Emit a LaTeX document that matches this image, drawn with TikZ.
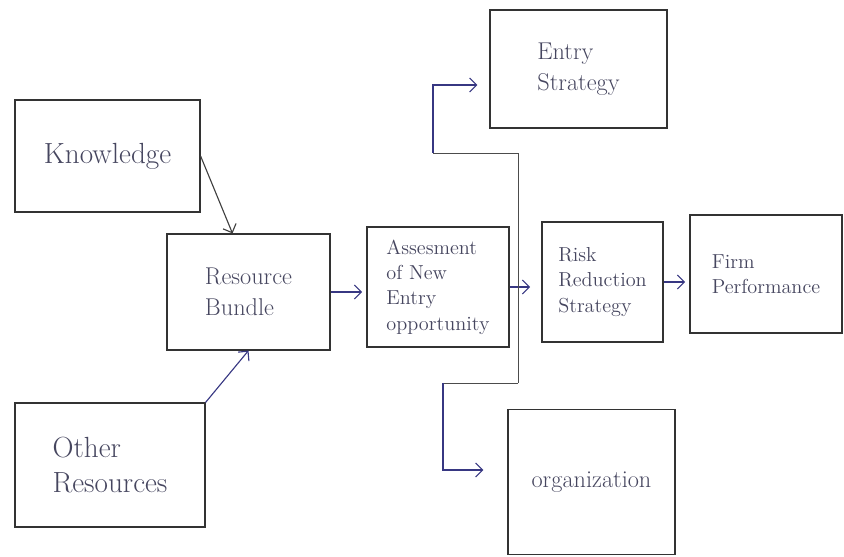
\documentclass[tikz,border=0pt]{standalone}
\usepackage{amsmath}
\usepackage{tikz}
\usetikzlibrary{arrows.meta}

\definecolor{pen}{RGB}{70,70,95}
\definecolor{ink}{RGB}{55,55,130}

\begin{document}
\begin{tikzpicture}[x=0.025cm, y=-0.025cm,
    >={Straight Barb[length=5pt, width=10pt]},
    box/.style={draw=black!80, line width=0.8pt, text=pen, align=left, inner sep=2pt},
    flow/.style={->, draw=ink, line width=0.8pt},
    trunk/.style={draw=black!70, line width=0.6pt}]
    \useasboundingbox (0, 0) rectangle (844, 557);
    % left column
    \node [box, minimum width=4.625cm, minimum height=2.8cm, font=\huge] (know) at (107.5, 156) {Knowledge};
    \node [box, minimum width=4.075cm, minimum height=2.9cm, font=\LARGE] (bundle) at (248.5, 292) {Resource\\ Bundle};
    \node [box, minimum width=4.75cm, minimum height=3.1cm, font=\huge] (other) at (110, 465) {Other\\ Resources};
    % middle row
    \node [box, minimum width=3.55cm, minimum height=3cm, font=\Large] (assess) at (438, 287) {Assesment\\ of New\\ Entry\\ opportunity};
    \node [box, minimum width=3.025cm, minimum height=3cm, font=\Large] (risk) at (602.5, 282) {Risk\\ Reduction\\ Strategy};
    \node [box, minimum width=3.8cm, minimum height=2.95cm, font=\Large] (firm) at (766, 274) {Firm\\ Performance};
    % branches
    \node [box, minimum width=4.425cm, minimum height=2.95cm, font=\LARGE] (entry) at (578.5, 69) {Entry\\ Strategy};
    \node [box, minimum width=4.175cm, minimum height=3.625cm, font=\LARGE] (org) at (591.5, 482) {organization};
    \coordinate (jtop) at (518, 153);
    \coordinate (jbot) at (518, 383);
    \coordinate (ltop) at (433, 153);
    \coordinate (lbot) at (443, 383);
    % connectors
    \draw [flow, draw=black!75] (know.east) -- ([xshift=-0.4cm]bundle.north);
    \draw [flow] (other.north east) -- (bundle.south);
    \draw [flow, shorten >=3pt] (bundle.east) -- (bundle.east -| assess.west);
    \draw [flow, shorten >=8pt] (assess.east) -- (assess.east -| risk.west);
    \draw [flow, shorten >=3pt] (risk.east) -- (risk.east -| firm.west);
    \draw [trunk] (jbot) -- (jtop) -- (ltop);
    \draw [trunk] (jbot) -- (lbot);
    \draw [flow, shorten >=0.3cm] (ltop) |- ([yshift=-0.4cm]entry.west);
    \draw [flow, shorten >=0.6cm] (lbot) |- ([yshift=0.3cm]org.west);
  \end{tikzpicture}
\end{document}
